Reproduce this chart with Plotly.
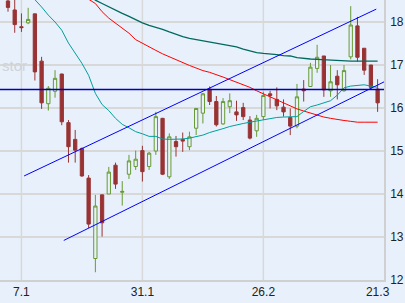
import plotly.graph_objects as go

# ---- data ----
dates = ["3.1","4.1","7.1","8.1","9.1","10.1","11.1","14.1","15.1","16.1","17.1","18.1",
         "21.1","22.1","23.1","24.1","25.1","28.1","29.1","30.1","31.1",
         "1.2","4.2","5.2","6.2","7.2","8.2","11.2","12.2","13.2","14.2","15.2","18.2",
         "19.2","20.2","21.2","22.2","25.2","26.2","27.2","28.2",
         "1.3","4.3","5.3","6.3","7.3","8.3","11.3","12.3","13.3","14.3","15.3","18.3",
         "19.3","20.3","21.3"]

open_ = [18.49,18.28,17.89,17.98,18.19,17.09,16.10,16.39,16.79,15.66,15.27,15.06,
         14.37,12.50,13.98,14.00,14.67,14.04,14.46,14.64,15.01,14.64,15.00,15.76,
         14.40,15.22,15.27,15.10,15.53,15.88,16.44,16.15,15.63,16.03,15.91,16.01,
         15.72,15.47,15.80,16.33,16.20,16.02,15.78,15.58,16.44,16.50,16.92,17.21,
         16.40,16.74,16.40,17.19,17.91,17.39,17.00,16.44]
high = [18.55,18.60,18.20,18.33,18.19,17.19,16.51,16.88,16.80,15.72,15.49,15.08,
        14.44,13.98,13.98,14.63,14.73,14.30,14.91,15.01,15.12,14.98,15.91,15.77,
        15.41,15.35,15.43,15.45,16.00,16.35,16.50,16.28,16.23,16.34,16.17,16.12,
        15.81,15.84,16.38,16.40,16.48,16.20,15.99,16.56,16.65,17.05,17.47,17.21,
        17.00,16.88,17.00,18.37,18.12,17.39,17.00,16.67]
low = [18.24,17.75,17.77,17.95,16.64,15.98,15.94,16.24,15.60,14.73,14.73,14.40,
       13.21,12.18,13.01,14.00,14.12,13.73,14.35,14.56,14.29,14.56,14.91,14.44,
       14.35,14.87,14.98,15.02,15.37,15.64,16.07,15.57,15.61,15.88,15.70,15.72,
       15.27,15.33,15.72,15.99,15.95,15.80,15.37,15.53,16.15,16.50,16.82,16.26,
       16.26,16.20,16.38,17.13,17.08,16.77,16.43,15.91]
close = [18.34,17.94,17.87,18.06,16.84,16.12,16.46,16.69,15.68,15.10,15.02,14.42,
         13.30,13.72,13.33,14.51,14.23,14.06,14.77,14.81,14.52,14.95,15.80,14.46,
         15.33,15.10,15.23,15.33,15.99,16.33,16.15,15.61,16.15,16.17,15.84,15.80,
         15.30,15.76,16.29,16.29,16.05,15.91,15.58,16.26,16.40,16.95,17.18,16.42,
         16.61,16.54,16.87,17.93,17.18,16.88,16.48,16.12]

ma_short = [None,None,None,18.75,18.52,18.35,18.16,18.00,17.81,17.51,17.28,17.04,
            16.76,16.34,16.08,15.94,15.76,15.62,15.54,15.45,15.40,15.34,15.34,15.28,
            15.27,15.27,15.28,15.30,15.33,15.37,15.43,15.47,15.52,15.57,15.61,15.64,
            15.67,15.70,15.72,15.76,15.78,15.79,15.79,15.80,15.92,16.03,16.07,16.12,
            16.17,16.30,16.47,16.51,16.52,16.54,16.51,16.48]
ma_mid = [None]*12 + [18.65,18.51,18.43,18.35,18.27,18.20,18.13,18.05,17.98,17.92,17.88,17.83,
          17.77,17.71,17.66,17.62,17.59,17.56,17.54,17.51,17.48,17.45,17.42,17.37,
          17.33,17.29,17.27,17.26,17.24,17.22,17.21,17.17,17.15,17.14,17.13,17.12,
          17.12,17.10,17.10,17.09,17.09,17.09,17.09,17.09]
ma_long = [None]*11 + [18.70,18.53,18.43,18.24,18.09,17.97,17.86,17.74,17.59,17.50,17.42,17.34,
           17.26,17.19,17.12,17.06,16.99,16.93,16.87,16.83,16.78,16.72,16.66,16.60,
           16.54,16.48,16.40,16.33,16.26,16.19,16.11,16.05,15.98,15.93,15.88,15.83,
           15.79,15.76,15.73,15.71,15.69,15.67,15.67,15.67,15.67]

upper_x = [2.4, 54.8]
upper_y = [14.42, 18.30]
lower_x = [8.3, 56.5]
lower_y = [12.92, 16.65]
hline_level = 16.43

tick_labels = ["7.1", "31.1", "26.2", "21.3"]
grid_labels = ["7.1", "31.1", "26.2"]
y_ticks = [12, 13, 14, 15, 16, 17, 18]

# ---- figure ----
BG = "#e8f1fb"
x = list(range(len(dates)))
fig = go.Figure()

fig.add_trace(go.Scatter(x=x, y=ma_long, mode="lines", line=dict(color="#ff0000", width=1),
                         hoverinfo="skip", showlegend=False))
fig.add_trace(go.Scatter(x=x, y=ma_mid, mode="lines", line=dict(color="#00695f", width=1.3),
                         hoverinfo="skip", showlegend=False))
fig.add_trace(go.Scatter(x=x, y=ma_short, mode="lines", line=dict(color="#00a09a", width=1),
                         hoverinfo="skip", showlegend=False))
fig.add_trace(go.Scatter(x=upper_x, y=upper_y, mode="lines", line=dict(color="#0000ff", width=1),
                         showlegend=False))
fig.add_trace(go.Scatter(x=lower_x, y=lower_y, mode="lines", line=dict(color="#0000ff", width=1),
                         showlegend=False))

fig.add_trace(go.Candlestick(
    x=x, open=open_, high=high, low=low, close=close,
    increasing=dict(line=dict(color="#669933", width=1), fillcolor=BG),
    decreasing=dict(line=dict(color="#993333", width=1), fillcolor="#993333"),
    showlegend=False,
))

fig.add_hline(y=hline_level, line=dict(color="#0000c0", width=1.5))

for lab in grid_labels:
    xv = dates.index(lab)
    fig.add_shape(type="line", xref="x", yref="paper", x0=xv, x1=xv, y0=0, y1=1,
                  line=dict(color="#d8d8d8", width=1.5), layer="below")

fig.add_annotation(text="stor", xref="paper", yref="paper", x=0.0, y=0.765,
                   xanchor="left", yanchor="middle", showarrow=False,
                   font=dict(size=15, color="#cfd3d7", family="Arial"))

fig.update_layout(
    width=405, height=303,
    margin=dict(l=0, r=21, t=0, b=23),
    paper_bgcolor=BG, plot_bgcolor=BG,
    font=dict(family="Arial, Liberation Sans", size=12, color="#222222"),
    xaxis=dict(range=[-1.19, 55.95], tickvals=[dates.index(t) for t in tick_labels],
               ticktext=tick_labels, showgrid=False, zeroline=False,
               showline=True, linecolor="#d0d0d0", linewidth=1.5,
               rangeslider=dict(visible=False), ticks="", fixedrange=True),
    yaxis=dict(range=[12, 18.512], side="right", tickvals=y_ticks,
               showgrid=True, gridcolor="#d8d8d8", gridwidth=1.5, zeroline=False,
               showline=True, linecolor="#d0d0d0", linewidth=1.5, ticks="",
               ticklabelstandoff=2),
    showlegend=False,
)

fig.write_html("out.html")
